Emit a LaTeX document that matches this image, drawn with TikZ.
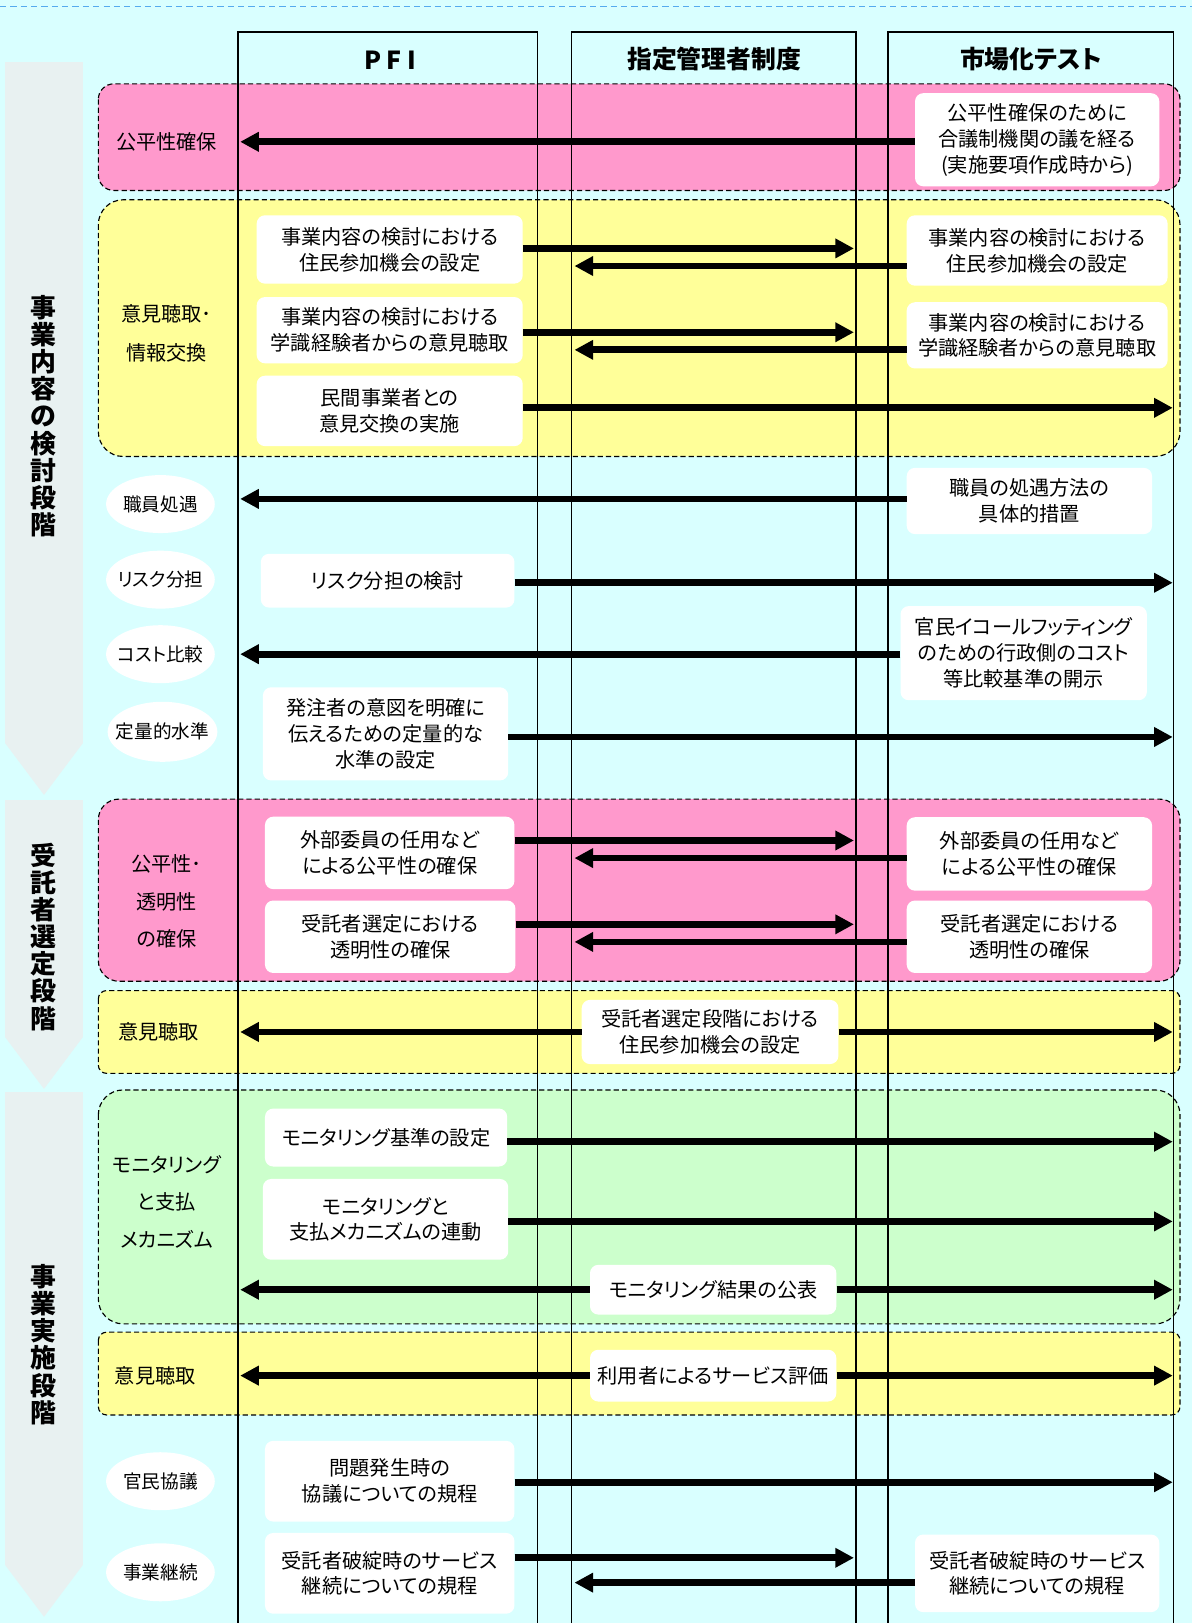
\documentclass[tikz,border=0pt]{standalone}
\usepackage{fontspec}
\setmainfont{Noto Sans CJK JP}[RawFeature={+palt}]
\usetikzlibrary{arrows.meta,shapes.geometric}
\definecolor{bgc}{HTML}{D9FFFF}
\definecolor{pinkc}{HTML}{FF99CC}
\definecolor{yelc}{HTML}{FFFF99}
\definecolor{grnc}{HTML}{CCFFCC}
\definecolor{phasec}{HTML}{E8F1F1}
\definecolor{topc}{HTML}{55AAEE}
\newcommand\fsz[2]{\fontsize{#1}{#2}\selectfont}
\newcommand\ovtxt[1]{\makebox[0pt]{#1}}
\tikzset{
  band/.style={draw=black, dash pattern=on 5pt off 3pt, line width=1.1pt},
  colline/.style={draw=black, line width=1.3pt},
  box/.style={fill=white, rounded corners=8pt, inner sep=0pt, align=center, font=\fsz{19.5}{25}},
  oval/.style={ellipse, fill=white, inner sep=0pt, minimum width=105pt, minimum height=56pt, font=\fsz{18}{20}},
  lab/.style={inner sep=0pt, align=center, font=\fsz{19.5}{25}},
  head/.style={inner sep=0pt, font=\bfseries\fsz{24}{28}},
  phaselab/.style={inner sep=0pt, align=center, font=\bfseries\fsz{25}{26.2}},
  arr/.style={line width=6.5pt, -{Triangle[length=18pt,width=18pt]}},
}
\begin{document}
\begin{tikzpicture}[x=1pt,y=-1pt]
\useasboundingbox (0,0) rectangle (1152,1568);
\fill[bgc] (0,0) rectangle (1152,1568);
\draw[topc, line width=1.2pt, dash pattern=on 6pt off 4pt] (0,6) -- (1152,6);

% phase arrows
\fill[phasec] (5,60) -- (80,60) -- (80,718) -- (42.5,768) -- (5,718) -- cycle;
\fill[phasec] (5,773) -- (80,773) -- (80,1002) -- (42.5,1052) -- (5,1002) -- cycle;
\fill[phasec] (5,1055) -- (80,1055) -- (80,1512) -- (42.5,1562) -- (5,1512) -- cycle;
\node[phaselab] (ph1) at (42,402) {事\\業\\内\\容\\の\\検\\討\\段\\階};
\node[phaselab] (ph2) at (42,905) {受\\託\\者\\選\\定\\段\\階};
\node[phaselab] (ph3) at (42,1299) {事\\業\\実\\施\\段\\階};

% bands
\filldraw[band, fill=pinkc, rounded corners=15pt] (95,81) rectangle (1140,184);
\filldraw[band, fill=yelc, rounded corners=24pt] (95,193) rectangle (1140,441);
\filldraw[band, fill=pinkc, rounded corners=20pt] (95,772) rectangle (1140,948);
\filldraw[band, fill=yelc, rounded corners=8pt] (95,957) rectangle (1140,1037);
\filldraw[band, fill=grnc, rounded corners=24pt] (95,1053) rectangle (1140,1279);
\filldraw[band, fill=yelc, rounded corners=8pt] (95,1287) rectangle (1140,1367);

% columns
\draw[colline] (230,1568) -- (230,31) -- (519,31) -- (519,1568);
\draw[colline] (552,1568) -- (552,31) -- (827,31) -- (827,1568);
\draw[colline] (858,1568) -- (858,31) -- (1134,31) -- (1134,1568);
\node[head] (h1) at (377,58) {P\hspace{5pt}F\hspace{5pt}I};
\node[head] (h2) at (690,57) {指定管理者制度};
\node[head] (h3) at (996,57) {市場化テスト};

\coordinate (L1) at (232,0);
\coordinate (L2) at (555,0);
\coordinate (R2) at (825,0);
\coordinate (R3) at (1133,0);

% left labels
\node[lab] (lA) at (161,137) {公平性確保};
\node[lab] (lB) at (161,322) {意見聴取･\\[13pt]情報交換};
\node[lab] (lC) at (161,871) {公平性･\\[11pt]透明性\\[11pt]の確保};
\node[lab] (lD) at (153,997) {意見聴取};
\node[lab] (lE) at (161,1161) {モニタリング\\[11pt]と支払\\[11pt]メカニズム};
\node[lab] (lF) at (150,1329) {意見聴取};

% ellipses
\node[oval] (e1) at (155,487) {\ovtxt{職員処遇}};
\node[oval] (e2) at (155,560) {\ovtxt{リスク分担}};
\node[oval] (e3) at (155,632) {\ovtxt{コスト比較}};
\node[oval, minimum width=106pt, minimum height=58pt] (e4) at (157,707) {\ovtxt{定量的水準}};
\node[oval] (e5) at (155,1431) {\ovtxt{官民協議}};
\node[oval] (e6) at (155,1519) {\ovtxt{事業継続}};

% PFI boxes
\node[box, minimum width=257pt, minimum height=66pt] (b1) at (376.5,241) {事業内容の検討における\\住民参加機会の設定};
\node[box, minimum width=257pt, minimum height=64pt] (b2) at (376.5,319) {事業内容の検討における\\学識経験者からの意見聴取};
\node[box, minimum width=257pt, minimum height=68pt] (b3) at (376.5,397) {民間事業者との\\意見交換の実施};
\node[box, minimum width=245pt, minimum height=52pt] (b4) at (374.5,561) {リスク分担の検討};
\node[box, minimum width=237pt, minimum height=90pt] (b5) at (372.5,709) {発注者の意図を明確に\\伝えるための定量的な\\水準の設定};
\node[box, minimum width=241pt, minimum height=70pt] (b6) at (376.5,824) {外部委員の任用など\\による公平性の確保};
\node[box, minimum width=242pt, minimum height=70pt] (b7) at (377,905) {受託者選定における\\透明性の確保};
\node[box, minimum width=234pt, minimum height=56pt] (b8) at (373,1099) {モニタリング基準の設定};
\node[box, minimum width=237pt, minimum height=78pt] (b9) at (372.5,1178) {モニタリングと\\支払メカニズムの連動};
\node[box, minimum width=241pt, minimum height=78pt] (b10) at (376.5,1431) {問題発生時の\\協議についての規程};
\node[box, minimum width=241pt, minimum height=78pt] (b11) at (376.5,1520) {受託者破綻時のサービス\\継続についての規程};

% column 2 boxes
\node[box, minimum width=248pt, minimum height=62pt] (c1) at (686,997) {受託者選定段階における\\住民参加機会の設定};
\node[box, minimum width=238pt, minimum height=48pt] (c2) at (689,1246) {モニタリング結果の公表};
\node[box, minimum width=238pt, minimum height=50pt] (c3) at (689,1329) {利用者によるサービス評価};

% column 3 boxes
\node[box, minimum width=236pt, minimum height=90pt] (d1) at (1002,135) {公平性確保のために\\合議制機関の議を経る\\(実施要項作成時から)};
\node[box, minimum width=252pt, minimum height=68pt] (d2) at (1002,242) {事業内容の検討における\\住民参加機会の設定};
\node[box, minimum width=252pt, minimum height=64pt] (d3) at (1002,324) {事業内容の検討における\\学識経験者からの意見聴取};
\node[box, minimum width=237pt, minimum height=64pt] (d4) at (994.5,484) {職員の処遇方法の\\具体的措置};
\node[box, minimum width=238pt, minimum height=91pt] (d5) at (989,631) {官民イコールフッティング\\のための行政側のコスト\\等比較基準の開示};
\node[box, minimum width=237pt, minimum height=71pt] (d6) at (994.5,825) {外部委員の任用など\\による公平性の確保};
\node[box, minimum width=237pt, minimum height=70pt] (d7) at (994.5,905) {受託者選定における\\透明性の確保};
\node[box, minimum width=236pt, minimum height=75pt] (d8) at (1002,1520) {受託者破綻時のサービス\\継続についての規程};

% arrows
\draw[arr] (d1.west |- 0,137) -- (L1 |- 0,137);
\draw[arr] (b1.east |- 0,240) -- (R2 |- 0,240);
\draw[arr] (d2.west |- 0,257) -- (L2 |- 0,257);
\draw[arr] (b2.east |- 0,321) -- (R2 |- 0,321);
\draw[arr] (d3.west |- 0,338) -- (L2 |- 0,338);
\draw[arr] (b3.east |- 0,394) -- (R3 |- 0,394);
\draw[arr] (d4.west |- 0,482) -- (L1 |- 0,482);
\draw[arr] (b4.east |- 0,563) -- (R3 |- 0,563);
\draw[arr] (d5.west |- 0,632) -- (L1 |- 0,632);
\draw[arr] (b5.east |- 0,712) -- (R3 |- 0,712);
\draw[arr] (b6.east |- 0,812) -- (R2 |- 0,812);
\draw[arr] (d6.west |- 0,829) -- (L2 |- 0,829);
\draw[arr] (b7.east |- 0,893) -- (R2 |- 0,893);
\draw[arr] (d7.west |- 0,910) -- (L2 |- 0,910);
\draw[arr] (c1.west |- 0,997) -- (L1 |- 0,997);
\draw[arr] (c1.east |- 0,997) -- (R3 |- 0,997);
\draw[arr] (b8.east |- 0,1103) -- (R3 |- 0,1103);
\draw[arr] (b9.east |- 0,1180) -- (R3 |- 0,1180);
\draw[arr] (c2.west |- 0,1246) -- (L1 |- 0,1246);
\draw[arr] (c2.east |- 0,1246) -- (R3 |- 0,1246);
\draw[arr] (c3.west |- 0,1329) -- (L1 |- 0,1329);
\draw[arr] (c3.east |- 0,1329) -- (R3 |- 0,1329);
\draw[arr] (b10.east |- 0,1432) -- (R3 |- 0,1432);
\draw[arr] (b11.east |- 0,1505) -- (R2 |- 0,1505);
\draw[arr] (d8.west |- 0,1529) -- (L2 |- 0,1529);
\end{tikzpicture}
\end{document}
